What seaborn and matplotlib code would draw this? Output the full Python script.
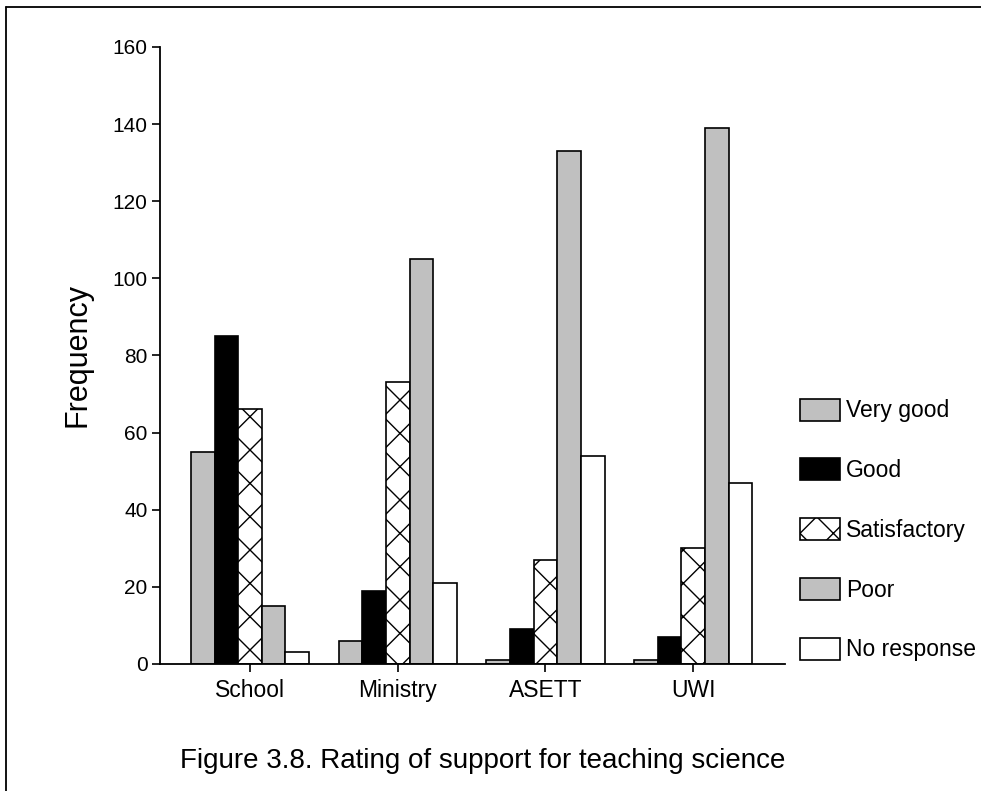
import pandas as pd
import matplotlib.pyplot as plt
import seaborn as sns
from matplotlib.patches import Patch
from matplotlib.lines import Line2D

# Rating of support for teaching science
sources = ['School', 'Ministry', 'ASETT', 'UWI']
ratings = ['Very good', 'Good', 'Satisfactory', 'Poor', 'No response']
very_good = [55, 6, 1, 1]
good = [85, 19, 9, 7]
satisfactory = [66, 73, 27, 30]
poor = [15, 105, 133, 139]
no_response = [3, 21, 54, 47]

fills = {'Very good': '#c0c0c0', 'Good': '#000000', 'Satisfactory': '#ffffff',
         'Poor': '#c0c0c0', 'No response': '#ffffff'}
hatches = {'Very good': '', 'Good': '', 'Satisfactory': 'x', 'Poor': '', 'No response': ''}


def build_frame():
    rows = []
    for rating, vals in zip(ratings, [very_good, good, satisfactory, poor, no_response]):
        for src, v in zip(sources, vals):
            rows.append({'source': src, 'rating': rating, 'freq': v})
    return pd.DataFrame(rows)


def draw():
    df = build_frame()
    sns.set_style('white')
    plt.rcParams['font.family'] = ['Liberation Sans', 'DejaVu Sans']
    plt.rcParams['hatch.linewidth'] = 1.0
    for key in ['text.color', 'axes.labelcolor', 'xtick.color', 'ytick.color']:
        plt.rcParams[key] = 'black'

    fig = plt.figure(figsize=(9.81, 7.91), dpi=100)
    ax = fig.add_axes([0.163, 0.1606, 0.637, 0.78])
    sns.barplot(data=df, x='source', y='freq', hue='rating', order=sources,
                hue_order=ratings, palette=fills, width=0.8, saturation=1,
                edgecolor='black', linewidth=1.2, legend=False, ax=ax)

    # apply the hatch per rating series
    for cont, rating in zip(ax.containers, ratings):
        for bar in cont:
            bar.set_hatch(hatches[rating])

    ax.set_ylim(0, 160)
    ax.set_xlim(-0.61, 3.62)
    ax.set_yticks(range(0, 161, 20))
    ax.set_xlabel('')
    ax.set_ylabel('Frequency', fontsize=22, labelpad=14)
    ax.tick_params(axis='both', length=6, width=1.2, direction='out',
                   color='black', left=True, bottom=True)
    ax.tick_params(axis='y', labelsize=15, pad=3)
    ax.tick_params(axis='x', labelsize=16.5, pad=5)
    sns.despine(ax=ax)
    for s in ['left', 'bottom']:
        ax.spines[s].set_color('black')
        ax.spines[s].set_linewidth(1.3)

    handles = [Patch(facecolor=fills[r], edgecolor='black', hatch=hatches[r], linewidth=1.2)
               for r in ratings]
    fig.legend(handles, ratings, loc='center left', bbox_to_anchor=(0.8155, 0.33),
               frameon=False, fontsize=16.5, handlelength=1.75, handleheight=1.1,
               labelspacing=1.57, handletextpad=0.25, borderpad=0, borderaxespad=0)

    fig.text(0.4925, 0.029, 'Figure 3.8. Rating of support for teaching science',
             ha='center', va='baseline', fontsize=20)

    # outer frame (top and left edges)
    fig.add_artist(Line2D([0.0065, 1.0], [0.991, 0.991], color='black', lw=1.3,
                          transform=fig.transFigure))
    fig.add_artist(Line2D([0.0065, 0.0065], [0.0, 0.991], color='black', lw=1.3,
                          transform=fig.transFigure))

    fig.savefig('out.png', dpi=100)


if __name__ == '__main__':
    draw()
